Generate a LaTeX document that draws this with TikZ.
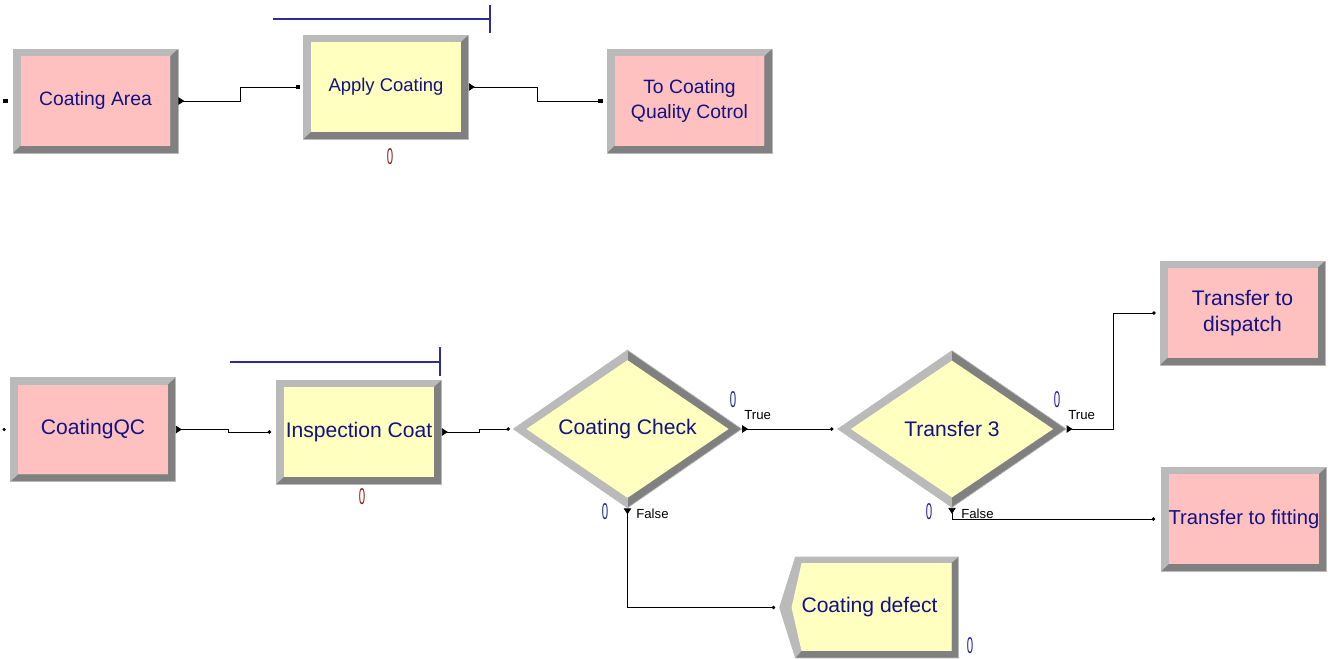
\documentclass[tikz,border=0pt]{standalone}
\usepackage{fontspec}
\setmainfont{Liberation Sans}
\usetikzlibrary{
		calc,
		arrows.meta,
		shapes.geometric,
		shapes.symbols
	}
\definecolor{modpink}{RGB}{255,192,192}
\definecolor{modyellow}{RGB}{255,255,192}
\definecolor{bevlight}{RGB}{186,186,186}
\definecolor{bevdark}{RGB}{128,128,128}
\definecolor{modtext}{RGB}{18,18,130}
\definecolor{cntred}{RGB}{140,30,30}
\definecolor{cntblue}{RGB}{30,30,160}
\definecolor{queueblue}{RGB}{45,45,150}
\tikzset{
		>=stealth,
		bevelbox/.style={rectangle, draw=bevlight, inner sep=0pt,
			minimum width=3.3cm, minimum height=2.08cm, align=center,
			text=modtext, font=\fontsize{11}{14}\selectfont,
			path picture={
				\fill[bevlight] (path picture bounding box.south west) rectangle (path picture bounding box.north east);
				\fill[bevdark] (path picture bounding box.south west) -- (path picture bounding box.south east)
					-- (path picture bounding box.north east)
					-- ([shift={(-0.15cm,-0.14cm)}]path picture bounding box.north east)
					-- ([shift={(-0.15cm,0.14cm)}]path picture bounding box.south east)
					-- ([shift={(0.15cm,0.14cm)}]path picture bounding box.south west) -- cycle;
				\fill[#1] ([shift={(0.15cm,0.14cm)}]path picture bounding box.south west)
					rectangle ([shift={(-0.15cm,-0.14cm)}]path picture bounding box.north east);
			}},
		bevelkite/.style={diamond, draw=bevlight, inner sep=0pt,
			minimum width=4.57cm, minimum height=3.14cm,
			text=modtext, font=\fontsize{12}{14}\selectfont,
			path picture={
				\fill[bevlight] (path picture bounding box.south west) rectangle (path picture bounding box.north east);
				\fill[bevdark] (path picture bounding box.south) rectangle (path picture bounding box.north east);
				\fill[modyellow] ([xshift=0.26cm]path picture bounding box.west)
					-- ([yshift=-0.2cm]path picture bounding box.north)
					-- ([xshift=-0.26cm]path picture bounding box.east)
					-- ([yshift=0.2cm]path picture bounding box.south) -- cycle;
			}},
		bevelout/.style={signal, signal to=west, signal from=nowhere,
			signal pointer angle=145, draw=bevlight, inner sep=0pt,
			minimum width=3.58cm, minimum height=2.02cm,
			text=modtext, font=\fontsize{12}{14}\selectfont,
			path picture={
				\fill[bevlight] (path picture bounding box.south west) rectangle (path picture bounding box.north east);
				\fill[bevdark] ([xshift=0.32cm]path picture bounding box.south west)
					-- (path picture bounding box.south east) -- (path picture bounding box.north east)
					-- ([shift={(-0.14cm,-0.12cm)}]path picture bounding box.north east)
					-- ([shift={(-0.14cm,0.14cm)}]path picture bounding box.south east)
					-- ([shift={(0.44cm,0.14cm)}]path picture bounding box.south west) -- cycle;
				\fill[modyellow] ([xshift=0.24cm]path picture bounding box.west)
					-- ([shift={(0.44cm,-0.12cm)}]path picture bounding box.north west)
					-- ([shift={(-0.14cm,-0.12cm)}]path picture bounding box.north east)
					-- ([shift={(-0.14cm,0.14cm)}]path picture bounding box.south east)
					-- ([shift={(0.44cm,0.14cm)}]path picture bounding box.south west) -- cycle;
			}},
		flow/.style={line width=0.5pt, {Triangle[reversed,length=0.12cm,width=0.15cm]}-{Square[length=0.09cm,width=0.09cm]}},
		flowdot/.style={line width=0.5pt, {Triangle[reversed,length=0.12cm,width=0.15cm]}-{Circle[length=0.07cm]}},
		counter/.style={font=\fontsize{13}{13}\selectfont, inner sep=0pt},
		branch/.style={font=\fontsize{7.5}{8}\selectfont, inner sep=0pt, anchor=west}
	}
\newcommand{\thinzero}{\scalebox{0.5}[1]{0}}

\begin{document}
\begin{tikzpicture}[x=0.02cm, y=-0.02cm]
              \useasboundingbox (0,0) rectangle (1332,659);

              % the modules of the upper line
              \node[bevelbox=modpink] (area) at (95.5,101) {Coating Area};
              \node[bevelbox=modyellow, font=\fontsize{10.5}{13}\selectfont] (apply) at (386,87) {Apply Coating};
              \node[bevelbox=modpink, font=\fontsize{11}{14}\selectfont] (toqc) at (689.5,101) {To Coating\\Quality Cotrol};

              % the modules of the lower line
              \node[bevelbox=modpink, font=\fontsize{12}{14}\selectfont] (coatqc) at (93,429.5) {CoatingQC};
              \node[bevelbox=modyellow, font=\fontsize{12}{14}\selectfont] (inspect) at (359,432) {Inspection Coat};
              \node[bevelkite] (check) at (627.5,429) {Coating Check};
              \node[bevelkite] (trans) at (952,429) {Transfer 3};
              \node[bevelbox=modpink, font=\fontsize{12}{14.5}\selectfont] (dispatch) at (1242.5,313) {Transfer to\\dispatch};
              \node[bevelbox=modpink, font=\fontsize{11.5}{14}\selectfont] (fitting) at (1244,519) {Transfer to fitting};
              \node[bevelout] (defect) at (877,607.5) {Coating defect\hspace*{0.3cm}};

              % the queues above the process modules
              \draw[queueblue, line width=0.6pt] (273,19) -- (490,19) (490,5) -- (490,33);
              \draw[queueblue, line width=0.6pt] (230,362) -- (440,362) (440,347) -- (440,376);

              % the counters
              \node[counter, text=cntred] (capply) at (390,157) {\thinzero};
              \node[counter, text=cntred] (cinspect) at (362,497) {\thinzero};
              \node[counter, text=cntblue] (ctrue1) at (733,400) {\thinzero};
              \node[counter, text=cntblue] (cfalse1) at (605,512) {\thinzero};
              \node[counter, text=cntblue] (ctrue2) at (1057,400) {\thinzero};
              \node[counter, text=cntblue] (cfalse2) at (929,512) {\thinzero};
              \node[counter, text=cntblue] (cdefect) at (970,646) {\thinzero};

              % the branch texts
              \node[branch] (true1) at (744,415) {True};
              \node[branch] (false1) at (636,514) {False};
              \node[branch] (true2) at (1068,415) {True};
              \node[branch] (false2) at (961,514) {False};

              % entry squares and dots on the left of the create modules
              \fill (area.west) ++(-0.1cm,0.045cm) rectangle ++(-0.09cm,-0.09cm);
              \fill (coatqc.west) ++(-0.12cm,0) circle (0.035cm);

              % draw the connections
              \draw[flow] (area.east) -- ++(62,0) |- ([xshift=-0.06cm]apply.west);
              \draw[flow] (apply.east) -- ++(69,0) |- ([xshift=-0.08cm]toqc.west);
              \draw[flowdot] (coatqc.east) -- ++(53,0) |- ([xshift=-0.1cm]inspect.west);
              \draw[flowdot] (inspect.east) -- ++(38,0) |- ([xshift=-0.06cm]check.west);
              \draw[flowdot] (check.east) -- ([xshift=-0.08cm]trans.west);
              \draw[flowdot] (check.south) |- ([xshift=-0.08cm]defect.west);
              \draw[flowdot] (trans.east) -- ++(47,0) |- ([xshift=-0.08cm]dispatch.west);
              \draw[flowdot] (trans.south) |- ([xshift=-0.12cm]fitting.west);

          \end{tikzpicture}
\end{document}
